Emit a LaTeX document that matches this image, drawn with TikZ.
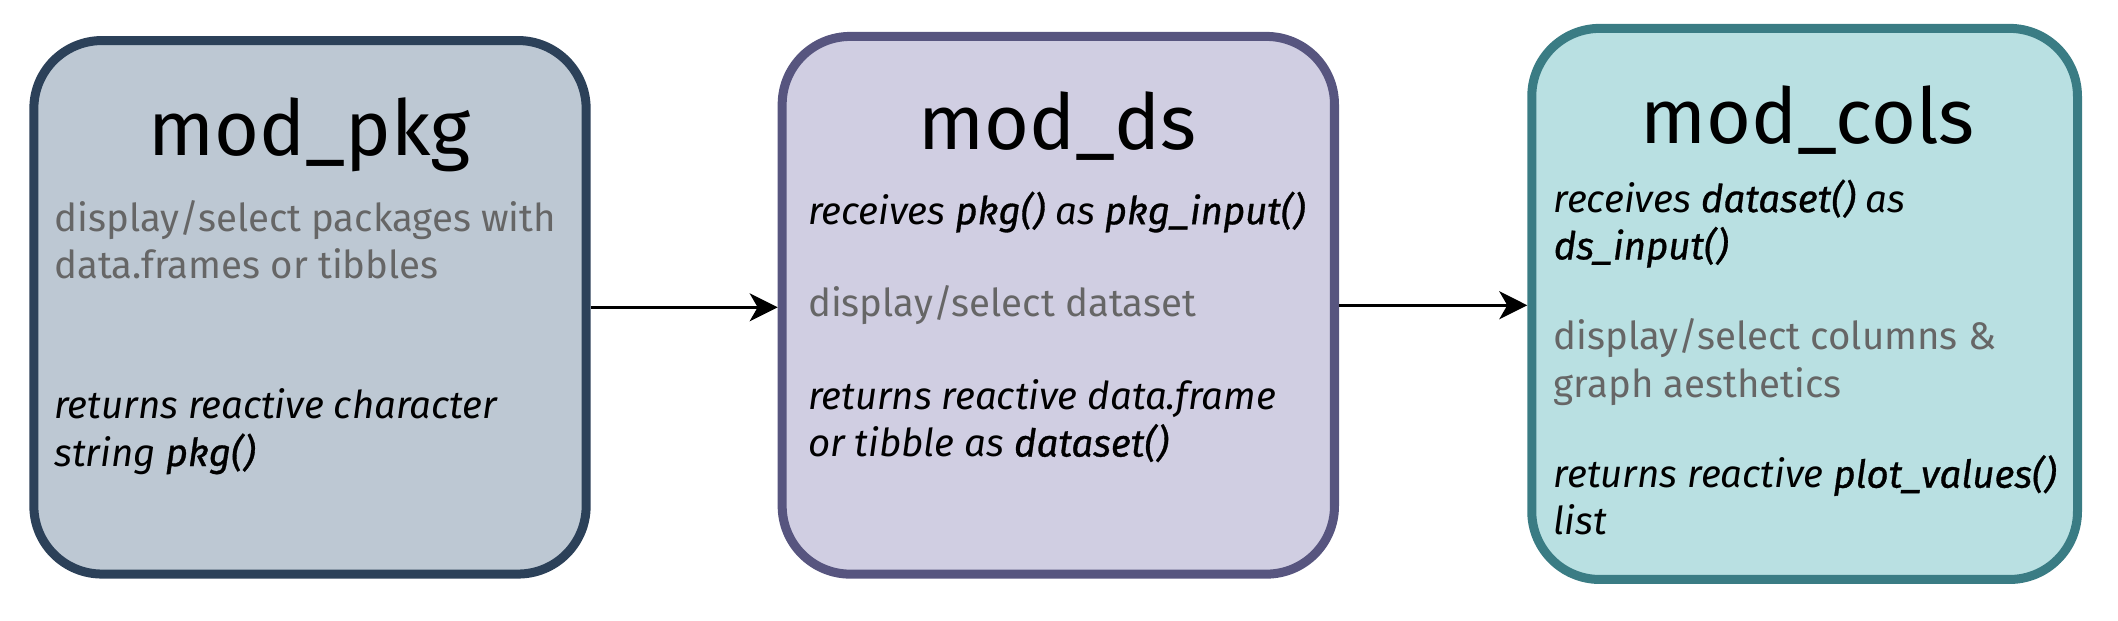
\documentclass[tikz,border=0pt]{standalone}
\usepackage{fontspec}
\setmainfont{Fira Sans}
\newfontfamily\codefont{Fira Sans}[ItalicFeatures={FakeBold=0.8}]
\usetikzlibrary{arrows.meta}

\definecolor{pkgfill}{HTML}{BDC8D3}
\definecolor{pkgline}{HTML}{2C4159}
\definecolor{dsfill}{HTML}{D0CEE2}
\definecolor{dsline}{HTML}{57557F}
\definecolor{colsfill}{HTML}{B9E0E2}
\definecolor{colsline}{HTML}{3A7C84}
\definecolor{desc}{HTML}{666666}

\newcommand{\code}[1]{{\codefont\itshape #1}}

\tikzset{
  modbox/.style={draw, line width=4.5pt, rounded corners=34pt, inner sep=0pt},
  modtitle/.style={font=\fontsize{38.5}{44}\selectfont, inner sep=0pt, anchor=base},
  desctext/.style={font=\fontsize{19.2}{23.6}\selectfont, text=desc, align=left, anchor=base west, inner sep=0pt},
  rettext/.style={font=\fontsize{19.2}{23.6}\selectfont\itshape, align=left, anchor=base west, inner sep=0pt},
  flow/.style={-{Stealth[length=14pt,width=14pt,inset=4pt]}, line width=1.35pt}
}

\begin{document}
\begin{tikzpicture}[x=0.675pt,y=-0.675pt]
            \useasboundingbox (0,0) rectangle (1568,459);

            % Draw the three module boxes
            \node[modbox, fill=pkgfill, draw=pkgline, minimum width=276pt, minimum height=266.6pt] (pkgbox) at (229.5,227.5) {};
            \node[modbox, fill=dsfill, draw=dsline, minimum width=276pt, minimum height=268.7pt] (dsbox) at (783.5,226) {};
            \node[modbox, fill=colsfill, draw=colsline, minimum width=272.7pt, minimum height=275.4pt] (colsbox) at (1336,225) {};

            % Module names
            \node[modtitle] (pkgtitle) at (229,115) {mod\_pkg};
            \node[modtitle] (dstitle) at (783,111) {mod\_ds};
            \node[modtitle] (colstitle) at (1338,106) {mod\_cols};

            % mod_pkg text (base = last line)
            \node[desctext] (pkgdesc) at (40,206) {display/select packages with\\data.frames or tibbles};
            \node[rettext] (pkgret) at (40,345) {returns reactive character\\string \code{pkg()}};

            % mod_ds text
            \node[rettext] (dsrec) at (598,166) {receives \code{pkg()} as \code{pkg\_input()}};
            \node[desctext] (dsdesc) at (598,234) {display/select dataset};
            \node[rettext] (dsret) at (598,338) {returns reactive data.frame\\or tibble as \code{dataset()}};

            % mod_cols text
            \node[rettext] (colsrec) at (1150,192) {receives \code{dataset()} as\\\code{ds\_input()}};
            \node[desctext] (colsdesc) at (1150,294) {display/select columns \&\\graph aesthetics};
            \node[rettext] (colsret) at (1150,396) {returns reactive \code{plot\_values()}\\list};

            % Draw the flow between modules
            \draw[flow] (pkgbox.east) -- (pkgbox.east -| dsbox.west);
            \draw[flow] (dsbox.east) -- (dsbox.east -| colsbox.west);

        \end{tikzpicture}
\end{document}
